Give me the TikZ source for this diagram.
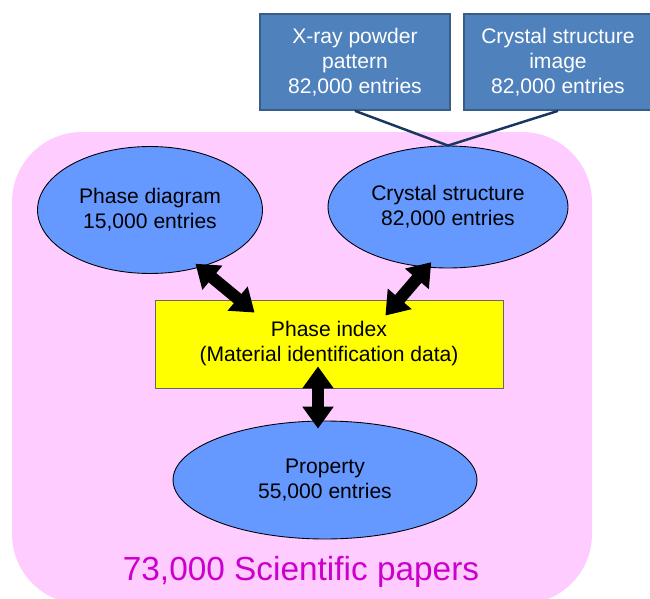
\documentclass[tikz,border=0pt]{standalone}
\usepackage{fontspec}
\setmainfont{Liberation Sans}
\usepackage{tikz}
\usetikzlibrary{arrows.meta,shapes}
\definecolor{paperpink}{RGB}{255,204,255}
\definecolor{dbblue}{RGB}{102,153,255}
\definecolor{srcblue}{RGB}{79,129,189}
\definecolor{srcedge}{RGB}{56,93,138}
\definecolor{linkblue}{RGB}{23,55,94}
\definecolor{papermag}{RGB}{204,0,204}
\definecolor{idxyellow}{RGB}{255,255,0}
\tikzstyle{database}=[ellipse,draw=black,line width=0.5pt,fill=dbblue,align=center,font=\fontsize{12}{14.2}\selectfont]
\tikzstyle{source}=[rectangle,draw=srcedge,line width=1pt,fill=srcblue,text=white,align=center,minimum height=1.92cm,font=\fontsize{12}{14.2}\selectfont]
\tikzstyle{index}=[rectangle,draw=black!60,line width=0.5pt,fill=idxyellow,align=center,minimum width=6.96cm,minimum height=1.76cm,font=\fontsize{12}{14.2}\selectfont]
\tikzstyle{link} = [draw,line width=1.4pt,linkblue]
\tikzstyle{dbl} = [draw,line width=0.24cm,{Triangle[width=0.6cm,length=0.44cm]}-{Triangle[width=0.6cm,length=0.44cm]}]

\begin{document}
\begin{tikzpicture}[x=0.02cm,y=-0.02cm]
    \useasboundingbox (0,0) rectangle (650,599);
    % The papers collection in the background
    \begin{scope}
        \clip (0,0) rectangle (650,599);
        \fill[paperpink,rounded corners=1.4cm] (12,132) rectangle (592,604);
    \end{scope}
    \node[font=\fontsize{19}{22}\selectfont,text=papermag] (papers) at (301,572) {73,000 Scientific papers};
    % First we draw the databases
    \node[database,minimum width=4.5cm,minimum height=2.54cm] (pd) at (150,210) {Phase diagram\\15,000 entries};
    \node[database,minimum width=4.8cm,minimum height=2.44cm] (cs) at (448,207) {Crystal structure\\82,000 entries};
    \node[database,minimum width=6.08cm,minimum height=2.36cm] (pr) at (325,480) {Property\\55,000 entries};
    \node[index] (idx) at (329,344) {Phase index\\(Material identification data)};
    % Sources of the crystal structure data
    \node[source,minimum width=3.8cm] (xp) at (355,62) {X-ray powder\\pattern\\82,000 entries};
    \node[source,minimum width=3.76cm] (cimg) at (558,62) {Crystal structure\\image\\82,000 entries};
    \path[link] (xp.south) -- (cs.north) -- (cimg.south);
    % Connect databases with the index
    \path[dbl] ([shift={(-3,-4)}]pd.310) -- ([shift={(100,13)}]idx.north west);
    \path[dbl] ([shift={(-6,-6)}]cs.260) -- ([shift={(-118,16)}]idx.north east);
    \path[dbl] ([shift={(-11,-22)}]idx.south) -- ([shift={(-7,8)}]pr.north);
\end{tikzpicture}
\end{document}
